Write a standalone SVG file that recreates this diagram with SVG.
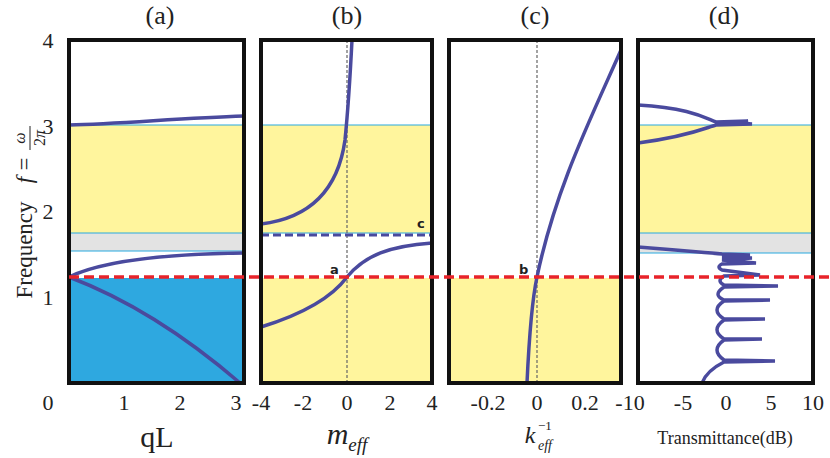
<svg xmlns="http://www.w3.org/2000/svg" width="830" height="458" viewBox="0 0 830 458">
<style>
.frame{fill:none;stroke:#111;stroke-width:4}
.curve{fill:none;stroke:#4a4a9e;stroke-width:3.5}
.yel{fill:#fff59d}
.gray{fill:#e3e3e3}
.cyan{stroke:#29a9e0;stroke-width:1.2}
.tick{font-family:"Liberation Serif",serif;font-size:22px;fill:#222;text-anchor:middle}
.title{font-family:"Liberation Serif",serif;font-size:26px;fill:#222;text-anchor:middle}
.lbl{font-family:"DejaVu Sans",sans-serif;font-size:13px;font-weight:bold;fill:#222}
.vd{stroke:#666;stroke-width:1.2;stroke-dasharray:3 2}
</style>
<rect width="830" height="458" fill="#fff"/>
<g id="panel-a">
<rect class="yel" x="69" y="125" width="175" height="108"/>
<rect class="gray" x="69" y="233" width="175" height="18"/>
<rect x="69" y="278" width="175" height="105" fill="#2ea8e0"/>
<line class="cyan" x1="69" y1="125" x2="244" y2="125"/><line class="cyan" x1="69" y1="233" x2="244" y2="233"/><line class="cyan" x1="69" y1="251" x2="244" y2="251"/>
<path class="curve" d="M69,125 C120,124 180,118 244,116"/>
<path class="curve" d="M69,277 C100,262 160,254 244,253"/>
<path class="curve" d="M69,277 C130,300 190,340 240,383"/>
<rect class="frame" x="69" y="40" width="175" height="343"/>
<text class="title" x="160" y="24">(a)</text>
</g>
<g id="panel-b">
<rect class="yel" x="261" y="125" width="171" height="108"/>
<rect class="yel" x="261" y="278" width="171" height="105"/>
<line class="cyan" x1="261" y1="125" x2="432" y2="125"/><line class="cyan" x1="261" y1="233" x2="432" y2="233"/>
<line class="vd" x1="347" y1="40" x2="347" y2="383"/>
<line x1="261" y1="235" x2="432" y2="235" stroke="#4a4a9e" stroke-width="3" stroke-dasharray="8 4"/>
<path class="curve" d="M261,224 C310,218 338,190 345,140 C348,110 350,80 352,40"/>
<path class="curve" d="M261,327 C300,315 330,300 347,277 C365,255 390,246 432,243"/>
<text class="lbl" x="330" y="274">a</text>
<text class="lbl" x="417" y="228">c</text>
<rect class="frame" x="261" y="40" width="171" height="343"/>
<text class="title" x="347" y="24">(b)</text>
</g>
<g id="panel-c">
<rect class="yel" x="449" y="278" width="172" height="105"/>
<line class="vd" x1="537" y1="40" x2="537" y2="383"/>
<path class="curve" d="M527,383 C529,340 532,300 537,277 C555,190 590,120 621,50"/>
<text class="lbl" x="519" y="274">b</text>
<rect class="frame" x="449" y="40" width="172" height="343"/>
<text class="title" x="535" y="24">(c)</text>
</g>
<g id="panel-d">
<rect class="yel" x="638" y="125" width="175" height="108"/>
<rect class="gray" x="638" y="233" width="175" height="20"/>
<line class="cyan" x1="638" y1="125" x2="813" y2="125"/><line class="cyan" x1="638" y1="233" x2="813" y2="233"/><line class="cyan" x1="638" y1="253" x2="813" y2="253"/>
<path class="curve" d="M638,105 C690,108 705,118 716,122 L748,121 L740,123 L752,124 L716,125 C705,128 690,136 638,143"/>
<path class="curve" d="M638,247 C690,251 705,253 722,254 L750,255 L722,257 L752,258 L722,260 L756,263 L722,264 Q716,267 722,270 L760,275 L724,276 Q716,281 724,285 L778,286 L724,287 Q712,295 724,300 L770,300 L724,301 Q710,310 724,319 L765,319 L724,320 Q710,330 724,339 L762,339 L724,340 Q710,350 724,360 L775,361 L724,362 C712,368 705,375 702,383"/>
<rect class="frame" x="638" y="40" width="175" height="343"/>
<text class="title" x="724" y="24">(d)</text>
</g>
<g id="connectors">
<line x1="69" y1="277" x2="830" y2="277" stroke="#e8232a" stroke-width="3.5" stroke-dasharray="10 5"/>
</g>
<g id="axes">
<text class="tick" x="48" y="48">4</text><text class="tick" x="48" y="134">3</text><text class="tick" x="48" y="219">2</text><text class="tick" x="48" y="305">1</text>
<text class="tick" x="48" y="410">0</text><text class="tick" x="124" y="410">1</text><text class="tick" x="180" y="410">2</text><text class="tick" x="236" y="410">3</text>
<text class="tick" x="261" y="410">-4</text><text class="tick" x="303" y="410">-2</text><text class="tick" x="347" y="410">0</text><text class="tick" x="390" y="410">2</text><text class="tick" x="432" y="410">4</text>
<text class="tick" x="488" y="410">-0.2</text><text class="tick" x="537" y="410">0</text><text class="tick" x="585" y="410">0.2</text>
<text class="tick" x="630" y="410">-10</text><text class="tick" x="683" y="410">-5</text><text class="tick" x="726" y="410">0</text><text class="tick" x="771" y="410">5</text><text class="tick" x="813" y="410">10</text>
<text x="157" y="447" font-family="Liberation Serif,serif" font-size="30" fill="#222" text-anchor="middle">qL</text>
<text x="347" y="444" font-family="Liberation Serif,serif" font-style="italic" font-size="30" fill="#222" text-anchor="middle">m<tspan font-size="19" dy="7">eff</tspan></text>
<text x="530" y="443" font-family="Liberation Serif,serif" font-style="italic" font-size="24" fill="#222" text-anchor="middle">k</text>
<text x="538" y="450" font-family="Liberation Serif,serif" font-style="italic" font-size="14" fill="#222">eff</text>
<text x="538" y="430" font-family="Liberation Serif,serif" font-size="13" fill="#222">−1</text>
<text x="725" y="444" font-family="Liberation Serif,serif" font-size="18" fill="#222" text-anchor="middle">Transmittance(dB)</text>
<g transform="translate(32,212) rotate(-90)" font-family="Liberation Serif,serif" fill="#222" text-anchor="middle">
<text x="-38" y="0" font-size="23">Frequency</text>
<text x="32" y="0" font-size="23" font-style="italic">f</text>
<text x="48" y="0" font-size="23">=</text>
<text x="74" y="-7" font-size="16" font-style="italic">ω</text>
<line x1="62" y1="-2" x2="86" y2="-2" stroke="#222" stroke-width="1"/>
<text x="74" y="13" font-size="16">2<tspan font-style="italic">π</tspan></text>
</g>
</g>
</svg>
